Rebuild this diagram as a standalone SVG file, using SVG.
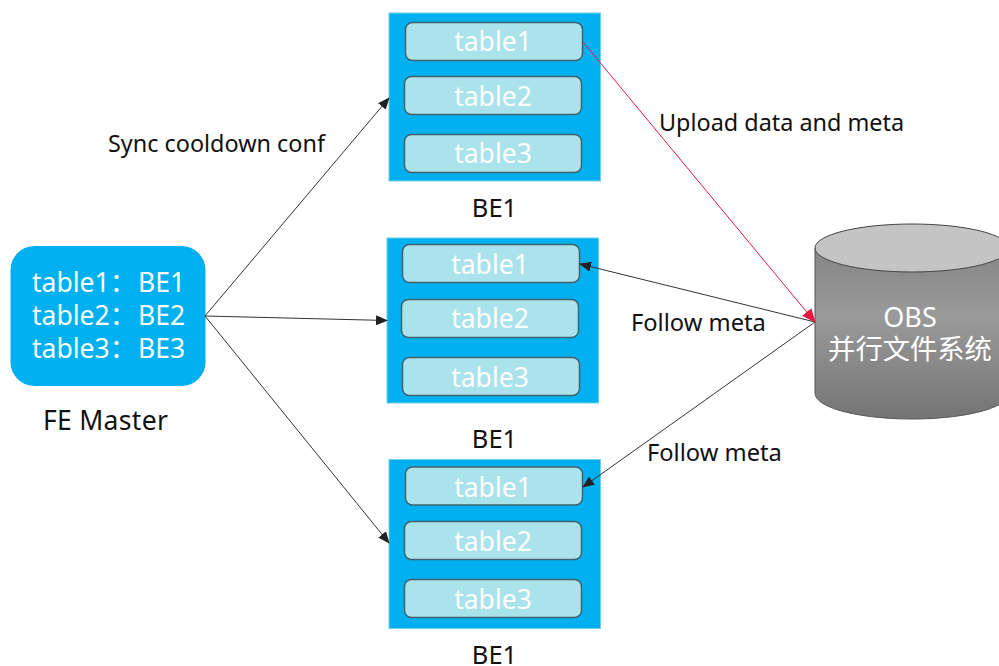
<svg xmlns="http://www.w3.org/2000/svg" width="999" height="666" viewBox="0 0 999 666">
<style>
text{font-family:"Noto Sans","Open Sans","Noto Sans CJK SC",sans-serif}
.lbl{font-size:25.500px;fill:#111}
.cap{font-size:23.400px;fill:#111}
.be{fill:#00b0f0;stroke:#6fd0e8;stroke-width:1}
.row{fill:#abe3ec;stroke:#44606a;stroke-width:1.500}
.rt{font-size:26.500px;fill:#fff;text-anchor:middle}
.w{font-size:27px;fill:#fff}
.f{font-size:26.500px;fill:#fff}
.c{fill:none;stroke:#333;stroke-width:1}
</style>
<defs>
<marker id="a" markerWidth="12" markerHeight="10" refX="11" refY="5" orient="auto" markerUnits="userSpaceOnUse"><path d="M0 0L12 5L0 10Z" fill="#222"/></marker>
<marker id="r" markerWidth="14" markerHeight="12" refX="13" refY="6" orient="auto" markerUnits="userSpaceOnUse"><path d="M0 0L14 6L0 12Z" fill="#e8173f"/></marker>
<linearGradient id="g" x1="0" y1="0" x2="0" y2="1"><stop offset="0" stop-color="#858585"/><stop offset="0.4" stop-color="#9a9a9a"/><stop offset="1" stop-color="#747474"/></linearGradient>
</defs>
<g id="fe">
<rect x="10.500" y="246" width="195" height="140" rx="24" fill="#00b0f0"/>
<text class="f" x="32" y="292">table1：<tspan x="138">BE1</tspan></text>
<text class="f" x="32" y="325">table2：<tspan x="138">BE2</tspan></text>
<text class="f" x="32" y="358">table3：<tspan x="138">BE3</tspan></text>
<text class="lbl" x="43" y="430" style="font-size:26.500px;letter-spacing:0.300px">FE Master</text>
</g>
<g id="be1">
<rect class="be" x="389" y="13" width="211.500" height="168"/>
<rect class="row" x="405.500" y="22.500" width="177" height="38" rx="7"/>
<text class="rt" x="493" y="51">table1</text>
<rect class="row" x="404.500" y="76.500" width="177" height="38" rx="7"/>
<text class="rt" x="493" y="106">table2</text>
<rect class="row" x="404.500" y="134.500" width="177" height="38" rx="7"/>
<text class="rt" x="493" y="163">table3</text>
<text class="lbl" x="494.500" y="217" text-anchor="middle">BE1</text>
</g>
<g id="be2">
<rect class="be" x="387" y="238" width="211.500" height="165"/>
<rect class="row" x="402.500" y="244.500" width="177" height="38" rx="7"/>
<text class="rt" x="490" y="274">table1</text>
<rect class="row" x="401.500" y="299.500" width="177" height="38" rx="7"/>
<text class="rt" x="490" y="328">table2</text>
<rect class="row" x="402.500" y="357.500" width="177" height="38" rx="7"/>
<text class="rt" x="490" y="387">table3</text>
<text class="lbl" x="494.500" y="448" text-anchor="middle">BE1</text>
</g>
<g id="be3">
<rect class="be" x="389" y="459.500" width="211.500" height="169"/>
<rect class="row" x="405.500" y="467" width="177" height="38" rx="7"/>
<text class="rt" x="493" y="497">table1</text>
<rect class="row" x="404.500" y="521.500" width="177" height="38" rx="7"/>
<text class="rt" x="493" y="551">table2</text>
<rect class="row" x="404.500" y="579.500" width="177" height="38" rx="7"/>
<text class="rt" x="493" y="609">table3</text>
<text class="lbl" x="494.500" y="664" text-anchor="middle">BE1</text>
</g>
<g id="obs">
<path d="M815 248V393C815 408 860 419 912 419S1009 408 1009 393V248Z" fill="url(#g)" stroke="#555" stroke-width="1"/>
<ellipse cx="912" cy="248" rx="97" ry="24" fill="#c4c4c4" stroke="#444" stroke-width="1"/>
<text class="w" x="910" y="327" text-anchor="middle">OBS</text>
<text class="w" x="910" y="359" text-anchor="middle" style="font-size:27.300px">并行文件系统</text>
</g>
<g id="connectors">
<path class="c" marker-end="url(#a)" d="M205 316L389 98"/>
<path class="c" marker-end="url(#a)" d="M205 316L387 320.500"/>
<path class="c" marker-end="url(#a)" d="M205 316L389 543"/>
<path class="c" marker-end="url(#a)" d="M815 322L580 264"/>
<path class="c" marker-end="url(#a)" d="M815 322L583 487"/>
<path fill="none" stroke="#e8173f" stroke-width="1" marker-end="url(#r)" d="M583 42L815 322"/>
</g>
<g id="labels">
<text class="cap" x="108" y="152">Sync cooldown conf</text>
<text class="cap" x="659" y="131">Upload data and meta</text>
<text class="cap" x="631" y="331" style="font-size:23.700px">Follow meta</text>
<text class="cap" x="647" y="461" style="font-size:23.700px">Follow meta</text>
</g>
</svg>
